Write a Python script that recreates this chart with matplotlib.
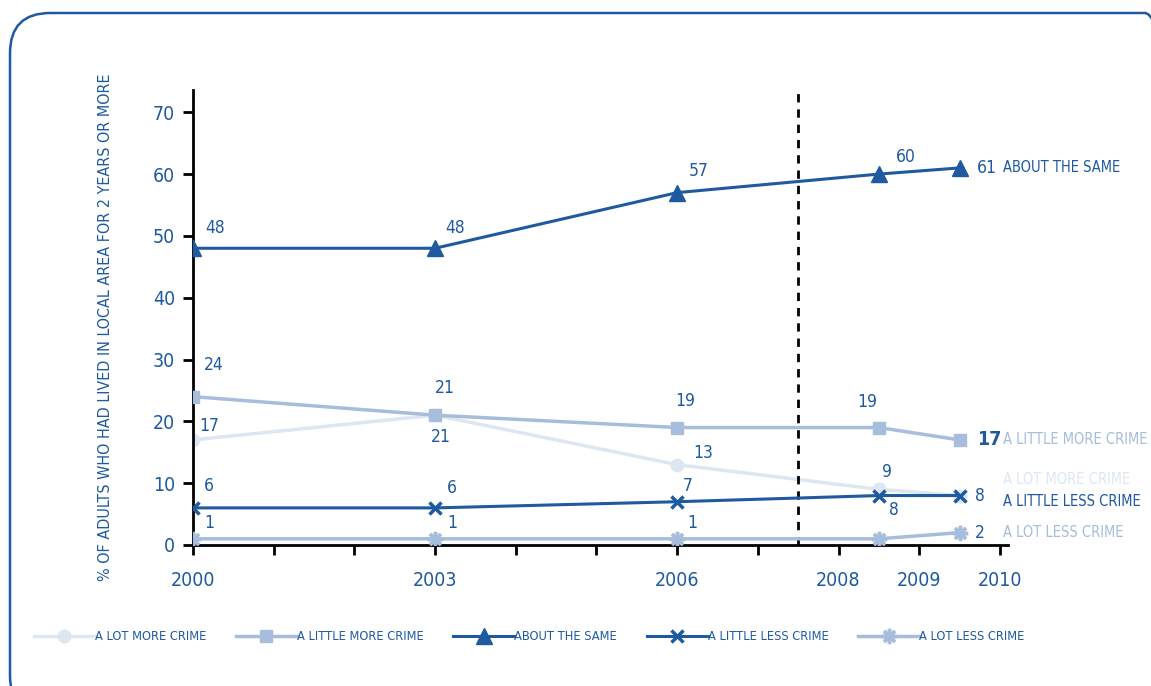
import matplotlib.pyplot as plt
from matplotlib.patches import FancyBboxPatch

plt.rcParams['font.family'] = ['DejaVu Sans']
plt.rcParams['font.stretch'] = 'condensed'

# data
years = [2000, 2003, 2006, 2008.5, 2009.5]
lot_more = [17, 21, 13, 9, 8]
little_more = [24, 21, 19, 19, 17]
about_same = [48, 48, 57, 60, 61]
little_less = [6, 6, 7, 8, 8]
lot_less = [1, 1, 1, 1, 2]

dark = '#1f5aa0'
light = '#a6bddb'
pale = '#dde6f1'

fig = plt.figure(figsize=(11.51, 6.86), dpi=100)

# rounded border
box = FancyBboxPatch((10 / 1151, -30 / 686), 1175 / 1151, 703 / 686,
                     boxstyle='round,pad=0,rounding_size=0.035',
                     transform=fig.transFigure, fill=False,
                     edgecolor=dark, linewidth=1.8, mutation_aspect=1151 / 686)
fig.patches.append(box)

ax = fig.add_axes([193 / 1151, 141 / 686, 815 / 1151, 455 / 686])

l1, = ax.plot(years, lot_more, color=pale, lw=2.5, marker='o', ms=9, label='A LOT MORE CRIME', zorder=2)
l2, = ax.plot(years, little_more, color=light, lw=2.5, marker='s', ms=8, label='A LITTLE MORE CRIME', zorder=3)
l3, = ax.plot(years, about_same, color=dark, lw=2.2, marker='^', ms=11, label='ABOUT THE SAME', zorder=4)
l4, = ax.plot(years, little_less, color=dark, lw=2.2, marker='x', ms=9, mew=2.5, label='A LITTLE LESS CRIME', zorder=5)
l5, = ax.plot(years, lot_less, color=light, lw=2.5, marker=(8, 2, 0), ms=11, mew=2.5, label='A LOT LESS CRIME', zorder=3)

ax.axvline(2007.5, ymin=0, ymax=1.0, color='black', ls=(0, (3, 2.5)), lw=2)

ax.set_xlim(2000, 2010.1)
ax.set_ylim(0, 73.6)
ax.set_xticks(range(2000, 2011))
ax.set_xticklabels(['2000', '', '', '2003', '', '', '2006', '', '2008', '2009', '2010'])
ax.set_yticks(range(0, 71, 10))
ax.tick_params(axis='both', colors='black', labelcolor=dark, labelsize=14, width=2, length=7)
ax.tick_params(axis='x', pad=12)
ax.tick_params(axis='y', pad=6)
for s in ['top', 'right']:
    ax.spines[s].set_visible(False)
for s in ['left', 'bottom']:
    ax.spines[s].set_linewidth(2)
ax.set_ylabel('% OF ADULTS WHO HAD LIVED IN LOCAL AREA FOR 2 YEARS OR MORE',
              color=dark, fontsize=11.5)
ax.yaxis.set_label_coords(-0.098, 0.479)


def lab(x, y, txt, dx, dy, size=12.5):
    ax.annotate(txt, (x, y), xytext=(dx, dy), textcoords='offset pixels',
                color=dark, fontsize=size, ha='center', va='center')


# data labels
for x, y, dx, dy in zip(years[:4], about_same[:4], [22, 20, 22, 27], [20, 20, 22, 17]):
    lab(x, y, str(y), dx, dy)
for x, y, dx, dy in zip(years[:4], little_more[:4], [21, 10, 8, -12], [32, 27, 27, 26]):
    lab(x, y, str(y), dx, dy)
for x, y, dx, dy in zip(years[:4], lot_more[:4], [16, 6, 26, 8], [14, -22, 12, 17]):
    lab(x, y, str(y), dx, dy)
for x, y, dx, dy in zip(years[:4], little_less[:4], [16, 17, 11, 15], [22, 20, 16, -14]):
    lab(x, y, str(y), dx, dy)
for x, y, dx in zip(years[:3], lot_less[:3], [16, 17, 15]):
    lab(x, y, str(y), dx, 16)

# end labels
ends = [(about_same[-1], '61', 'ABOUT THE SAME', dark, 0),
        (little_more[-1], '17', 'A LITTLE MORE CRIME', light, 0),
        (little_less[-1] + 2.6, '', 'A LOT MORE CRIME', pale, 0),
        (little_less[-1], '8', 'A LITTLE LESS CRIME', dark, -6),
        (lot_less[-1], '2', 'A LOT LESS CRIME', light, 0)]
for y, num, name, c, dy in ends:
    if num:
        big = num == '17'
        ax.annotate(num, (years[-1], y), xytext=(17 if len(num) > 1 else 20, 0),
                    textcoords='offset pixels', color=dark, fontsize=14 if big else 12.5,
                    ha='left' if len(num) > 1 else 'center', va='center',
                    fontweight='bold' if big else 'normal')
    ax.annotate(name, (years[-1], y), xytext=(43, dy), textcoords='offset pixels',
                color=c, fontsize=10.5, ha='left', va='center')

leg = fig.legend(handles=[l1, l2, l3, l4, l5], loc='center left', bbox_to_anchor=(22 / 1151, 49 / 686),
                 ncol=5, frameon=False, handlelength=4.8, handletextpad=0.0,
                 columnspacing=2.3, fontsize=9.2)
for t in leg.get_texts():
    t.set_color(dark)

fig.savefig('out.png', dpi=100)
